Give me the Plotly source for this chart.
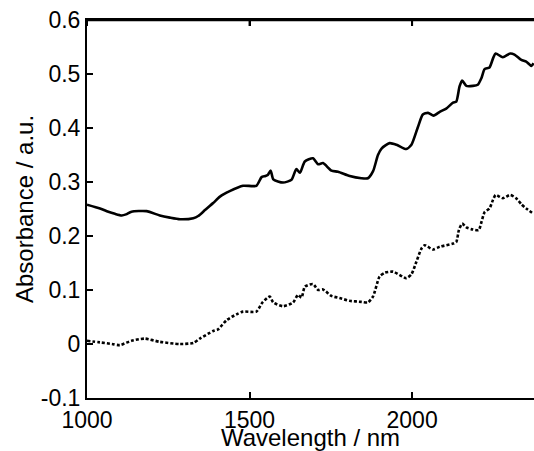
import plotly.graph_objects as go

# Upper spectrum (solid)
wl_solid = [1000, 1040, 1061, 1086, 1107, 1120, 1137, 1183, 1224, 1255, 1286, 1327, 1342, 1363,
            1388, 1409, 1439, 1480, 1521, 1537, 1549, 1556, 1565, 1573, 1603, 1629, 1644, 1655,
            1670, 1695, 1711, 1726, 1752, 1772, 1808, 1844, 1864, 1880, 1895, 1906, 1931, 1952,
            1982, 1998, 2018, 2033, 2049, 2066, 2085, 2105, 2126, 2136, 2146, 2154, 2167, 2187,
            2202, 2213, 2223, 2238, 2249, 2257, 2279, 2302, 2315, 2336, 2351, 2367, 2374]
abs_solid = [0.258, 0.251, 0.246, 0.241, 0.238, 0.240, 0.245, 0.246, 0.238, 0.234, 0.231, 0.233,
             0.237, 0.248, 0.261, 0.273, 0.283, 0.293, 0.293, 0.309, 0.311, 0.313, 0.321, 0.305,
             0.299, 0.304, 0.324, 0.317, 0.338, 0.344, 0.333, 0.335, 0.321, 0.319, 0.311, 0.307,
             0.307, 0.320, 0.350, 0.362, 0.372, 0.369, 0.361, 0.369, 0.402, 0.425, 0.428, 0.423,
             0.430, 0.436, 0.447, 0.449, 0.477, 0.488, 0.478, 0.478, 0.480, 0.492, 0.509, 0.512,
             0.529, 0.538, 0.531, 0.538, 0.536, 0.526, 0.523, 0.515, 0.520]

# Lower spectrum (dotted)
wl_dot = [1000, 1040, 1077, 1101, 1137, 1178, 1224, 1286, 1327, 1347, 1388, 1403, 1429, 1460,
          1480, 1521, 1540, 1562, 1573, 1603, 1634, 1649, 1660, 1670, 1695, 1711, 1726, 1752,
          1777, 1808, 1844, 1864, 1880, 1900, 1916, 1941, 1982, 1998, 2013, 2029, 2039, 2064,
          2085, 2126, 2136, 2144, 2154, 2167, 2187, 2205, 2213, 2223, 2238, 2249, 2257, 2279,
          2302, 2320, 2336, 2351, 2374]
abs_dot = [0.006, 0.003, 0.000, -0.002, 0.006, 0.010, 0.004, 0.000, 0.002, 0.010, 0.024, 0.027,
           0.044, 0.055, 0.060, 0.060, 0.077, 0.088, 0.077, 0.070, 0.077, 0.091, 0.086, 0.106,
           0.111, 0.100, 0.101, 0.089, 0.085, 0.080, 0.078, 0.077, 0.088, 0.125, 0.132, 0.134,
           0.122, 0.129, 0.152, 0.177, 0.183, 0.175, 0.180, 0.186, 0.189, 0.211, 0.223, 0.216,
           0.212, 0.211, 0.225, 0.244, 0.251, 0.267, 0.276, 0.270, 0.276, 0.270, 0.259, 0.251,
           0.241]

x_ticks = [1000, 1500, 2000]
y_ticks = [-0.1, 0, 0.1, 0.2, 0.3, 0.4, 0.5, 0.6]
y_tick_text = ["-0.1", "0", "0.1", "0.2", "0.3", "0.4", "0.5", "0.6"]

fig = go.Figure()
fig.add_trace(go.Scatter(x=wl_solid, y=abs_solid, mode="lines",
                         line=dict(color="black", width=2.6, shape="spline", smoothing=0.6)))
fig.add_trace(go.Scatter(x=wl_dot, y=abs_dot, mode="lines",
                         line=dict(color="black", width=2.6, dash="3px,2px", shape="spline", smoothing=0.6)))

# top frame line and top tick marks (frame of the axes box)
fig.add_shape(type="line", xref="paper", yref="paper", x0=0, x1=1, y0=1, y1=1,
              line=dict(color="#000000", width=2.5), layer="above")
for t in x_ticks:
    fig.add_shape(type="line", xref="x", yref="paper", x0=t, x1=t, y0=1, y1=1 - 6 / 378,
                  line=dict(color="#000000", width=2), layer="above")

font = dict(family="Liberation Sans, Arial, sans-serif", size=23, color="black")
fig.update_layout(
    width=534, height=451,
    margin=dict(l=87, r=0, t=20, b=53, autoexpand=False),
    paper_bgcolor="white", plot_bgcolor="white",
    showlegend=False,
    font=font,
)
fig.update_xaxes(
    range=[1000, 2375], tickvals=x_ticks, ticks="inside", ticklen=6, tickwidth=2,
    tickcolor="#000000", showline=True, linecolor="black", linewidth=2, mirror="ticks",
    showgrid=False, zeroline=False, tickfont=font, automargin=False,
    title=dict(text="Wavelength / nm", font=dict(family=font["family"], size=24), standoff=2),
)
fig.update_yaxes(
    range=[-0.1, 0.6], tickvals=y_ticks, ticktext=y_tick_text, ticks="inside", ticklen=6,
    tickwidth=2, tickcolor="#000000", showline=True, linecolor="black", linewidth=2,
    showgrid=False, zeroline=False, tickfont=font, automargin=False,
    title=dict(text="Absorbance / a.u.", font=dict(family=font["family"], size=24), standoff=0),
)
fig.write_html(
    "out.html",
    config={"displayModeBar": False},
    post_script="document.body.style.margin='0';document.body.style.overflow='hidden';",
)
